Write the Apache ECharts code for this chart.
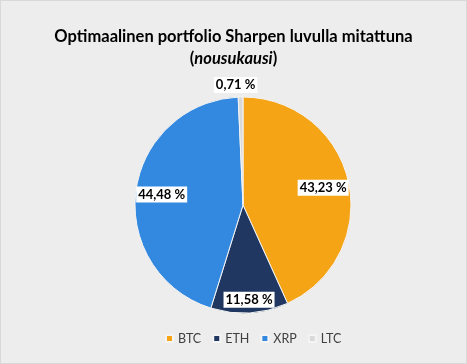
<!DOCTYPE html>
<html><head><meta charset="utf-8">
<script src="https://cdn.jsdelivr.net/npm/echarts@6/dist/echarts.min.js"></script>
<style>html,body{margin:0;padding:0;background:#fff}#c{width:467px;height:364px}</style>
</head><body><div id="c"></div>
<script>
const categories = ['BTC', 'ETH', 'XRP', 'LTC'];
const shares = [43.23, 11.58, 44.48, 0.71];
const labels = ['43,23 %', '11,58 %', '44,48 %', '0,71 %'];
const colors = ['#F5A416', '#1F3761', '#3388E0', '#D9D9D9'];

const chart = echarts.init(document.getElementById('c'));
const baseData = categories.map((n, i) => ({ name: n, value: shares[i], itemStyle: { color: colors[i] } }));
const labelData = categories.map((n, i) => {
  const d = { name: n, value: shares[i], itemStyle: { color: 'rgba(0,0,0,0)', borderWidth: 0 } };
  if (n === 'LTC') {
    d.label = { position: 'outside', offset: [22, 0] };
    d.labelLine = { show: false, length: 12, length2: 0 };
  }
  if (n === 'ETH') {
    d.label = { offset: [1, 13] };
  }
  return d;
});
const lbl = {
  show: true, position: 'inside',
  formatter: p => labels[p.dataIndex],
  fontFamily: 'Lato', fontWeight: 'bold', fontSize: 13, color: '#000',
  backgroundColor: '#fff', padding: [2, 2, 1, 2]
};
chart.setOption({
  backgroundColor: '#EDEDED',
  title: {
    text: '{a|Optimaalinen portfolio Sharpen luvulla mitattuna}\n{a|(}{b|nousukausi}{a|)}',
    left: 'center', top: 21,
    textStyle: {
      rich: {
        a: { fontFamily: 'Lato', fontWeight: 'bold', fontSize: 16.5, color: '#000', lineHeight: 22 },
        b: { fontFamily: 'Lato', fontWeight: 'bold', fontStyle: 'italic', fontSize: 16.5, color: '#000', lineHeight: 22 }
      }
    }
  },
  legend: {
    data: categories, bottom: 14, left: 160,
    icon: 'rect', itemWidth: 7, itemHeight: 7, itemGap: 11,
    textStyle: { fontFamily: 'Lato', fontSize: 12.5, color: '#404040' }
  },
  series: [
    {
      type: 'pie', radius: 108, center: [243, 205], startAngle: 90, clockwise: true,
      silent: true, label: { show: false }, labelLine: { show: false },
      itemStyle: { borderColor: '#F4F4F4', borderWidth: 1 },
      data: baseData
    },
    {
      type: 'pie', radius: [50, 108], center: [243, 205], startAngle: 90, clockwise: true,
      silent: true, label: lbl, labelLine: { show: false },
      data: labelData, z: 3
    }
  ]
});
</script>
<div style="position:absolute;left:0;top:0;width:465px;height:362px;border:1px solid #D9D9D9;pointer-events:none"></div>
</body></html>
